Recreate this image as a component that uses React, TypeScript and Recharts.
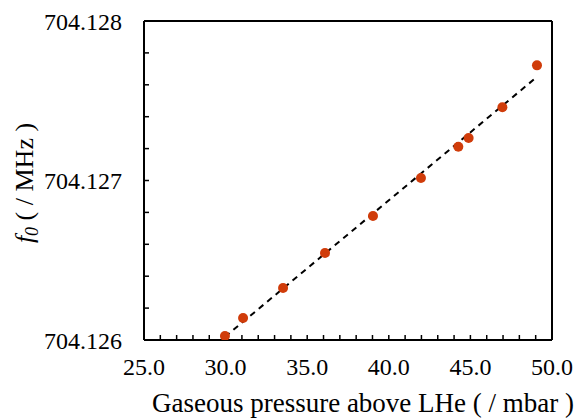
import {
  ComposedChart,
  Scatter,
  Line,
  XAxis,
  YAxis,
  ReferenceLine,
} from "recharts"

// gaseous pressure above LHe (mbar) and measured resonance frequency (MHz)
const pressure = [29.96, 31.07, 33.52, 36.09, 39.03, 41.97, 44.26, 44.89, 46.96, 49.08]
const freq = [
  704.126025, 704.126138, 704.126326, 704.126545, 704.126777,
  704.127016, 704.127212, 704.127266, 704.127459, 704.127722,
]

const xTicks = Array.from({ length: 26 }, (_, i) => 25 + i)
const yTicks = [
  704.126, 704.1262, 704.1264, 704.1266, 704.1268,
  704.127, 704.1272, 704.1274, 704.1276, 704.1278, 704.128,
]

const FONT = "Liberation Serif"

const points = pressure.map((p, i) => ({ x: p, y: freq[i] }))

// linear trend (least squares), drawn over the measured range
function trendLine() {
  const n = pressure.length
  const mx = pressure.reduce((a, b) => a + b, 0) / n
  const my = freq.reduce((a, b) => a + (b - 704.126), 0) / n
  let sxy = 0
  let sxx = 0
  pressure.forEach((p, i) => {
    sxy += (p - mx) * (freq[i] - 704.126 - my)
    sxx += (p - mx) * (p - mx)
  })
  const k = sxy / sxx
  const x0 = Math.min(...pressure)
  const x1 = Math.max(...pressure)
  return [
    { x: x0, y: 704.126 + my + k * (x0 - mx) },
    { x: x1, y: 704.126 + my + k * (x1 - mx) },
  ]
}

function YTitle() {
  return (
    <text
      transform="translate(33, 183) rotate(-90)"
      textAnchor="middle"
      fontFamily={FONT}
      fontSize={26}
      fill="#000"
    >
      <tspan fontStyle="italic">f</tspan>
      <tspan fontStyle="italic" fontSize={18} dy={5}>0</tspan>
      <tspan dy={-5}> ( / MHz )</tspan>
    </text>
  )
}

function XTitle() {
  return (
    <text x={363} y={412} textAnchor="middle" fontFamily={FONT} fontSize={27} fill="#000">
      Gaseous pressure above LHe ( / mbar )
    </text>
  )
}

export default function App() {
  return (
    <div style={{ position: "absolute", left: 0, top: 0 }}>
      <ComposedChart
        width={576}
        height={418}
        margin={{ top: 21, right: 24, left: 0, bottom: 0 }}
      >
        <XAxis
          type="number"
          dataKey="x"
          domain={[25, 50]}
          ticks={xTicks}
          interval={0}
          allowDataOverflow
          height={78}
          axisLine={{ stroke: "#000", strokeWidth: 2 }}
          tickLine={{ stroke: "#000", strokeWidth: 1.5 }}
          tickSize={-5}
          tickMargin={23}
          tick={{ fill: "#000", fontSize: 24, fontFamily: FONT }}
          tickFormatter={(v: number) => (v % 5 === 0 ? v.toFixed(1) : "")}
          label={<XTitle />}
        />
        <YAxis
          type="number"
          dataKey="y"
          domain={[704.126, 704.128]}
          ticks={yTicks}
          interval={0}
          allowDataOverflow
          width={144}
          axisLine={{ stroke: "#000", strokeWidth: 2 }}
          tickLine={{ stroke: "#000", strokeWidth: 1.5 }}
          tickSize={-5}
          tickMargin={27}
          tick={{ fill: "#000", fontSize: 24, fontFamily: FONT }}
          tickFormatter={(v: number) =>
            Math.abs(v * 1000 - Math.round(v * 1000)) < 1e-6 ? v.toFixed(3) : ""
          }
          label={<YTitle />}
        />
        <ReferenceLine y={704.128} stroke="#000" strokeWidth={2} />
        <ReferenceLine x={50} stroke="#000" strokeWidth={2} />
        <Line
          data={trendLine()}
          dataKey="y"
          stroke="#000"
          strokeWidth={2}
          strokeDasharray="6 5"
          dot={false}
          activeDot={false}
          isAnimationActive={false}
        />
        <Scatter
          data={points}
          fill="#D03C0A"
          shape={(props: any) => <circle cx={props.cx} cy={props.cy} r={5} fill="#D03C0A" />}
          isAnimationActive={false}
        />
      </ComposedChart>
    </div>
  )
}
